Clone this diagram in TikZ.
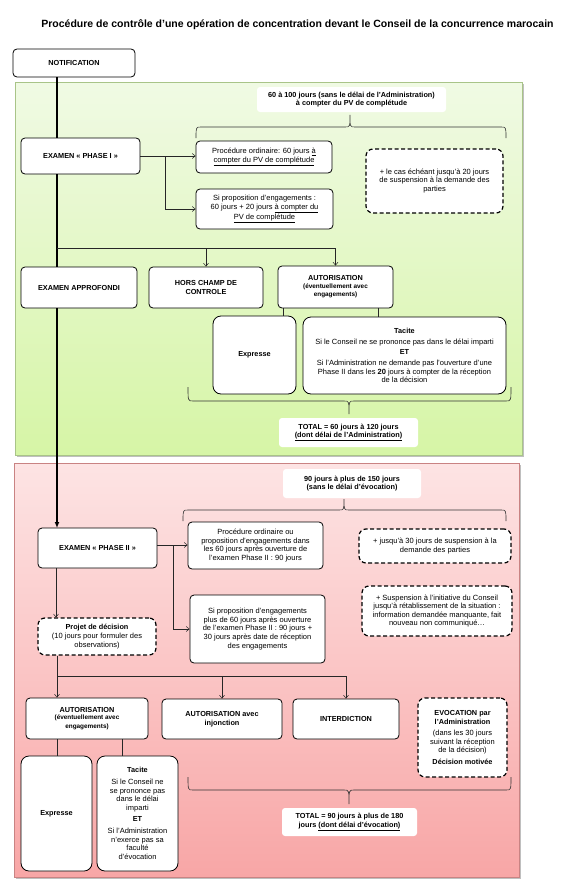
\documentclass[tikz,border=0pt]{standalone}
\usepackage{fontspec}
\setmainfont{Liberation Sans}
\usetikzlibrary{arrows.meta}
\definecolor{gtop}{HTML}{F0FAE4}
\definecolor{gbot}{HTML}{D6F5A6}
\definecolor{gbord}{HTML}{A9C488}
\definecolor{rtop}{HTML}{FDE4E4}
\definecolor{rbot}{HTML}{F8A6A6}
\definecolor{rbord}{HTML}{C98383}
\newcommand\myrf{\fontsize{7.5}{8.6}\selectfont\mdseries}
\newcommand\mybf{\fontsize{7.3}{8.6}\selectfont\bfseries}
\newcommand\mysbf{\fontsize{6.4}{7.6}\selectfont\bfseries}
\newcommand\mybrace[6]{%
  \draw[brc] (#1,#5) .. controls (#1,#4) .. (#1+5,#4) -- (#3-5,#4) .. controls (#3,#4) .. (#3,#6) .. controls (#3,#4) .. (#3+5,#4) -- (#2-5,#4) .. controls (#2,#4) .. (#2,#5);}
\begin{document}
\begin{tikzpicture}[x=1pt,y=-1pt,
  wh/.style 2 args={minimum width=#1pt,minimum height=#2pt},
  box/.style={draw,line width=0.8pt,rounded corners=4pt,fill=white,inner sep=1pt,align=center,font=\mybf},
  rbox/.style={box,font=\myrf},
  bigbox/.style={box,rounded corners=8pt},
  dbox/.style={draw,line width=1.2pt,dash pattern=on 4pt off 2.5pt,rounded corners=7pt,fill=white,inner sep=1pt,align=center,font=\myrf},
  lab/.style={fill=white,rounded corners=3pt,inner sep=1pt,align=center,font=\mybf},
  arr/.style={line width=0.5pt,black!85,-{Straight Barb[length=3pt,width=5pt]}},
  ln/.style={line width=0.6pt,black!85},
  mainln/.style={line width=1.5pt},
  brc/.style={line width=0.6pt,black!80}]
\useasboundingbox (0,0) rectangle (570,883);
\fill[white] (0,0) rectangle (570,883);
% title
\node[font=\fontsize{10.5}{12}\selectfont\bfseries] (title) at (297.5,25) {Procédure de contrôle d'une opération de concentration devant le Conseil de la concurrence marocain};
% panels
\fill[black!25] (17,84) rectangle (524,457);
\shadedraw[top color=gtop,bottom color=gbot,draw=gbord,line width=0.6pt] (15,82) rectangle (522,455);
\fill[black!25] (16,465) rectangle (521,879);
\shadedraw[top color=rtop,bottom color=rbot,draw=rbord,line width=0.6pt] (14,463) rectangle (519,877);
\coordinate (mx) at (57,0);
% ---------- phase I ----------
\node[box,wh={122}{28}] (notif) at (74,63) {NOTIFICATION};
\node[lab,wh={189}{25}] (lab1) at (351.5,99.5) {60 à 100 jours (sans le délai de l'Administration)\\à compter du PV de complétude};
\mybrace{196}{506}{350}{127}{138}{115}
\node[box,wh={119}{36}] (p1) at (80.5,156) {EXAMEN « PHASE I »};
\node[rbox,wh={136}{32}] (proc1) at (264,157) {Procédure ordinaire: 60 jours \underline{à}\\\underline{compter du PV de complétude}};
\node[rbox,wh={137}{40}] (si1) at (264.5,209) {Si proposition d'engagements :\\60 jours + 20 jours \underline{à compter du}\\\underline{PV de complétude}};
\node[dbox,wh={137}{64}] (d1) at (434.5,181) {+ le cas échéant jusqu'à 20 jours\\de suspension à la demande des\\parties};
\node[box,wh={116}{41}] (appro) at (79,287.5) {EXAMEN APPROFONDI};
\node[box,wh={114}{41}] (hors) at (206,287.5) {HORS CHAMP DE\\CONTROLE};
\node[box,wh={115}{42}] (auth1) at (335.5,287) {AUTORISATION\\[-1pt]\mysbf (éventuellement avec\\\mysbf engagements)};
\node[bigbox,wh={83}{78}] (exp1) at (254.5,355) {Expresse};
\node[bigbox,wh={203}{77},font=\myrf] (tac1) at (404.5,355.5) {\mybf Tacite\\[2pt]Si le Conseil ne se prononce pas dans le délai imparti\\[2pt]\mybf ET\\[2pt]Si l'Administration ne demande pas l'ouverture d'une\\Phase II dans les \textbf{20} jours à compter de la réception\\de la décision};
\mybrace{188}{511}{349}{401}{387}{414}
\node[lab,wh={139}{29}] (tot1) at (348.5,432.5) {TOTAL = 60 jours à 120 jours\\\underline{(dont délai de l'Administration)}};
% connectors phase I
\draw[mainln] (notif.south -| mx) -- (p1.north -| mx);
\draw[mainln] (p1.south -| mx) -- (appro.north -| mx);
\draw[mainln,-{Latex[length=6pt,width=5pt]}] (appro.south -| mx) -- (57,528) coordinate (p2top);
\coordinate (j1) at (165,156);
\draw[arr] (p1.east) -- (proc1.west |- p1.east);
\draw[arr] (j1) |- (si1.west);
\coordinate (h1) at (57,248);
\coordinate (h1e) at (335.5,248);
\draw[ln] (h1) -- (h1e);
\draw[arr] (hors.north |- h1) -- (hors.north);
\draw[arr] (h1e) -- (auth1.north);
\draw[ln] (283,308) coordinate (a1l) -- (a1l |- exp1.north);
\draw[ln] (378,308) coordinate (a1r) -- (a1r |- tac1.north);
% ---------- phase II ----------
\node[lab,wh={138}{29}] (lab2) at (352,483.5) {90 jours à plus de 150 jours\\(sans le délai d'évocation)};
\mybrace{183}{506}{344}{510}{521}{499}
\node[box,wh={119}{40}] (p2) at (97.5,548) {EXAMEN « PHASE II »};
\node[rbox,wh={135}{47}] (proc2) at (255.5,545.5) {Procédure ordinaire ou\\proposition d'engagements dans\\les 60 jours après ouverture de\\l'examen Phase II : 90 jours};
\node[rbox,wh={135}{68}] (si2) at (257.5,629) {Si proposition d'engagements\\plus de 60 jours après ouverture\\de l'examen Phase II : 90 jours +\\30 jours après date de réception\\des engagements};
\node[dbox,wh={152}{34}] (d2) at (435,546) {+ jusqu'à 30 jours de suspension à la\\demande des parties};
\node[dbox,wh={150}{50}] (d3) at (437,611) {+ Suspension à l'initiative du Conseil\\jusqu'à rétablissement de la situation :\\information demandée manquante, fait\\nouveau non communiqué…};
\node[dbox,wh={118}{37}] (proj) at (97,636.5) {\mybf Projet de décision\\(10 jours pour formuler des\\observations)};
\node[box,wh={122}{41}] (auth2) at (87,718.5) {AUTORISATION\\[-1pt]\mysbf (éventuellement avec\\\mysbf engagements)};
\node[box,wh={120}{40}] (inj) at (222,719) {AUTORISATION avec\\injonction};
\node[box,wh={106}{40}] (inter) at (346,719) {INTERDICTION};
\node[dbox,wh={89}{79},font=\mybf] (evoc) at (462.5,737.5) {EVOCATION par\\l'Administration\\[3pt]\myrf (dans les 30 jours\\\myrf suivant la réception\\\myrf de la décision)\\[3pt]\mybf Décision motivée};
\node[bigbox,wh={71}{115}] (exp2) at (56.5,813.5) {Expresse};
\node[bigbox,wh={81}{115},font=\myrf] (tac2) at (137.5,813.5) {\mybf Tacite\\[3pt]Si le Conseil ne\\se prononce pas\\dans le délai\\imparti\\[3pt]\mybf ET\\[3pt]Si l'Administration\\n'exerce pas sa\\faculté\\d'évocation};
\mybrace{188}{511}{349}{790}{777}{804}
\node[lab,wh={135}{28}] (tot2) at (349.5,822) {TOTAL = 90 jours à plus de 180\\jours \underline{(dont délai d'évocation)}};
% connectors phase II
\coordinate (j2) at (173,545);
\draw[arr] (p2.east |- j2) -- (proc2.west |- j2);
\draw[arr] (j2) |- (si2.west);
\draw[arr] (56,568) coordinate (p2b) -- (p2b |- proj.north);
\draw[arr] (proj.south -| mx) -- (auth2.north -| mx);
\coordinate (h2) at (57,676);
\coordinate (h2e) at (346,676);
\draw[ln] (h2) -- (h2e);
\draw[arr] (inj.north |- h2) -- (inj.north);
\draw[arr] (h2e) -- (inter.north);
\draw[ln] (auth2.south -| mx) -- (exp2.north -| mx);
\draw[ln] (122,739) coordinate (a2r) -- (a2r |- tac2.north);
\end{tikzpicture}
\end{document}
